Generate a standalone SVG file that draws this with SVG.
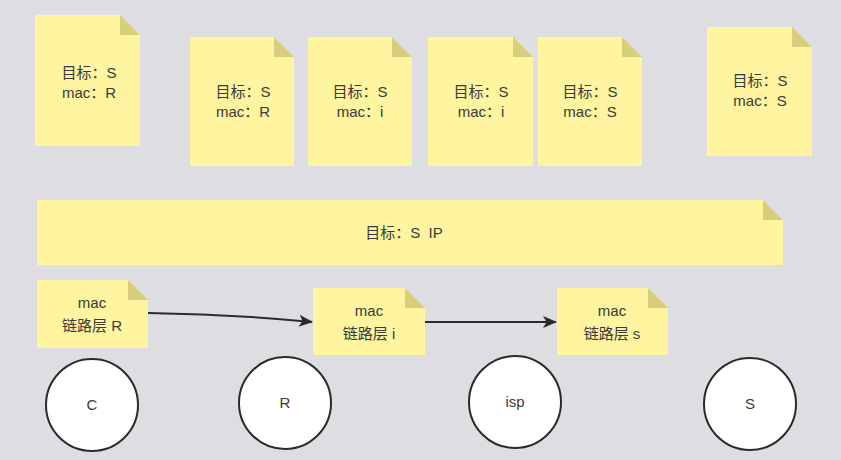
<svg xmlns="http://www.w3.org/2000/svg" width="841" height="460" viewBox="0 0 841 460">
<style>
.bg{fill:#dedee2}
.note{fill:#fff4a0}
.fold{fill:#d8cf7c}
.t{font-family:"Liberation Sans","Noto Sans CJK SC",sans-serif;font-size:15px;fill:#3a3a3a;text-anchor:middle}
.node{fill:#fff;stroke:#2a2a2a;stroke-width:2}
.edge{fill:none;stroke:#2a2a2a;stroke-width:2}
</style>
<defs>
<marker id="arrow" viewBox="0 0 14 12" refX="13" refY="6" markerWidth="14" markerHeight="12" markerUnits="userSpaceOnUse" orient="auto">
<path d="M0,0 L14,6 L0,12 L3.5,6 Z" fill="#2a2a2a"/>
</marker>
</defs>
<rect class="bg" x="0" y="0" width="841" height="460"/>

<g id="note1">
<path class="note" d="M35,15 H120 L140,35 V146 H35 Z"/>
<path class="fold" d="M120,15 V35 H140 Z"/>
<text class="t" x="89" y="78">目标：S</text>
<text class="t" x="89" y="98">mac：R</text>
</g>
<g id="note2">
<path class="note" d="M190,37 H274 L294,57 V166 H190 Z"/>
<path class="fold" d="M274,37 V57 H294 Z"/>
<text class="t" x="243" y="97">目标：S</text>
<text class="t" x="243" y="117">mac：R</text>
</g>
<g id="note3">
<path class="note" d="M308,37 H392 L412,57 V166 H308 Z"/>
<path class="fold" d="M392,37 V57 H412 Z"/>
<text class="t" x="360" y="97">目标：S</text>
<text class="t" x="360" y="117">mac：i</text>
</g>
<g id="note4">
<path class="note" d="M428,37 H513 L533,57 V166 H428 Z"/>
<path class="fold" d="M513,37 V57 H533 Z"/>
<text class="t" x="481" y="97">目标：S</text>
<text class="t" x="481" y="117">mac：i</text>
</g>
<g id="note5">
<path class="note" d="M538,37 H622 L642,57 V166 H538 Z"/>
<path class="fold" d="M622,37 V57 H642 Z"/>
<text class="t" x="590" y="97">目标：S</text>
<text class="t" x="590" y="117">mac：S</text>
</g>
<g id="note6">
<path class="note" d="M707,27 H792 L812,47 V156 H707 Z"/>
<path class="fold" d="M792,27 V47 H812 Z"/>
<text class="t" x="760" y="86">目标：S</text>
<text class="t" x="760" y="106">mac：S</text>
</g>
<g id="ipnote">
<path class="note" d="M37,200 H763 L783,220 V265 H37 Z"/>
<path class="fold" d="M763,200 V220 H783 Z"/>
<text class="t" x="404" y="238">目标：S&#160;&#160;IP</text>
</g>
<g id="macR">
<path class="note" d="M37,280 H128 L148,300 V348 H37 Z"/>
<path class="fold" d="M128,280 V300 H148 Z"/>
<text class="t" x="92" y="308">mac</text>
<text class="t" x="92" y="331">链路层 R</text>
</g>
<g id="macI">
<path class="note" d="M313,288 H405 L425,308 V355 H313 Z"/>
<path class="fold" d="M405,288 V308 H425 Z"/>
<text class="t" x="369" y="316">mac</text>
<text class="t" x="369" y="339">链路层 i</text>
</g>
<g id="macS">
<path class="note" d="M557,288 H648 L668,308 V355 H557 Z"/>
<path class="fold" d="M648,288 V308 H668 Z"/>
<text class="t" x="612" y="316">mac</text>
<text class="t" x="612" y="339">链路层 s</text>
</g>

<g id="connectors">
<path class="edge" d="M148,313 Q230,314 312,322" marker-end="url(#arrow)"/>
<path class="edge" d="M425,322 H556" marker-end="url(#arrow)"/>
</g>

<g id="nodeC">
<circle class="node" cx="92" cy="405" r="46"/>
<text class="t" x="92" y="410">C</text>
</g>
<g id="nodeR">
<circle class="node" cx="285" cy="403" r="46"/>
<text class="t" x="285" y="408">R</text>
</g>
<g id="nodeISP">
<circle class="node" cx="515" cy="402" r="46"/>
<text class="t" x="515" y="407">isp</text>
</g>
<g id="nodeS">
<circle class="node" cx="750" cy="404" r="46"/>
<text class="t" x="750" y="409">S</text>
</g>
</svg>
